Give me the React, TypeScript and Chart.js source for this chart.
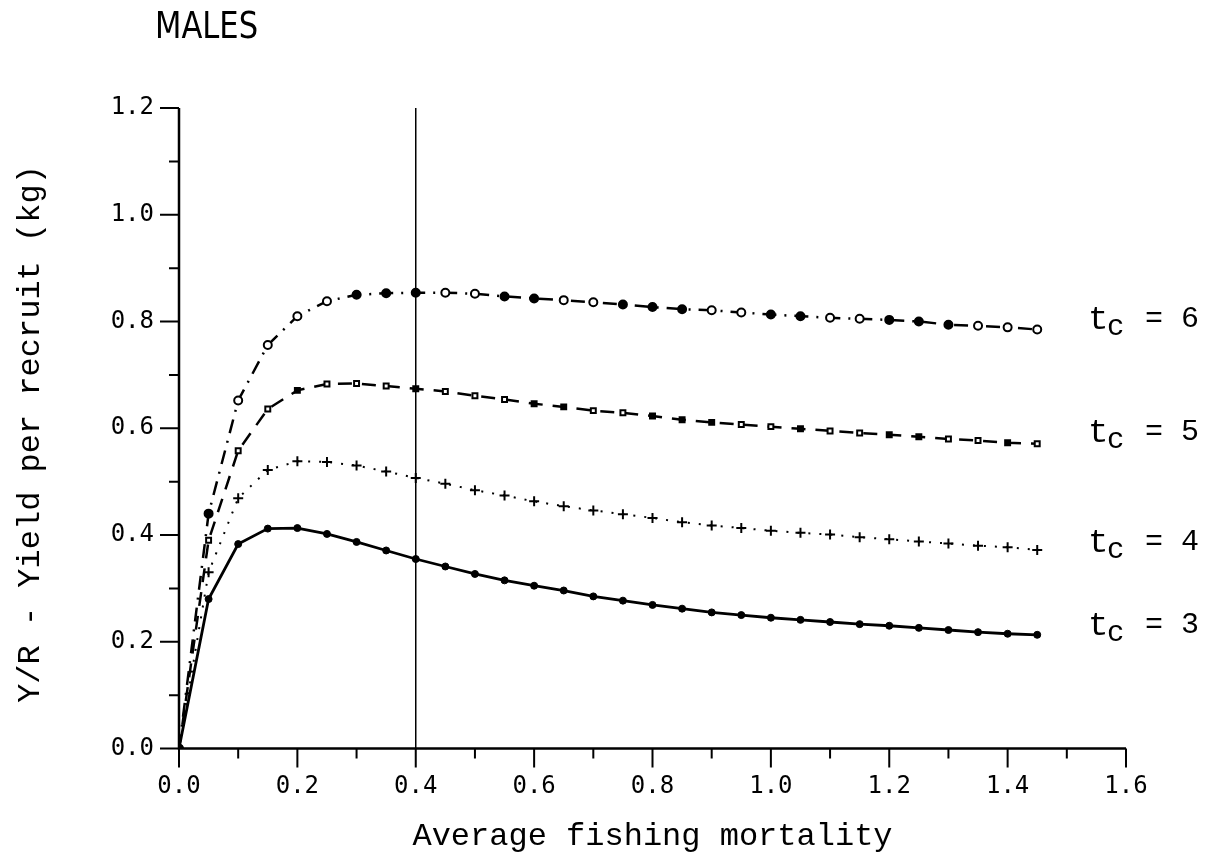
import React, { useEffect, useRef } from "react";
import { Chart, registerables } from "chart.js";

Chart.register(...registerables);

// ---- data ----
const fishingMortality = [
  0, 0.05, 0.1, 0.15, 0.2, 0.25, 0.3, 0.35, 0.4, 0.45, 0.5, 0.55, 0.6, 0.65, 0.7,
  0.75, 0.8, 0.85, 0.9, 0.95, 1.0, 1.05, 1.1, 1.15, 1.2, 1.25, 1.3, 1.35, 1.4, 1.45,
];
const yieldTc3 = [
  0, 0.28, 0.383, 0.412, 0.413, 0.402, 0.387, 0.371, 0.355, 0.341, 0.327, 0.315, 0.305,
  0.296, 0.285, 0.277, 0.269, 0.262, 0.255, 0.25, 0.245, 0.241, 0.237, 0.233, 0.23, 0.226,
  0.222, 0.218, 0.215, 0.213,
];
const yieldTc4 = [
  0, 0.33, 0.469, 0.522, 0.538, 0.537, 0.53, 0.519, 0.507, 0.496, 0.484, 0.474, 0.463,
  0.454, 0.446, 0.439, 0.432, 0.424, 0.418, 0.413, 0.408, 0.404, 0.401, 0.396, 0.392, 0.388,
  0.384, 0.38, 0.377, 0.372,
];
const yieldTc5 = [
  0, 0.39, 0.558, 0.636, 0.671, 0.683, 0.684, 0.679, 0.674, 0.669, 0.661, 0.654, 0.646,
  0.64, 0.633, 0.629, 0.623, 0.616, 0.611, 0.607, 0.603, 0.599, 0.595, 0.591, 0.588, 0.584,
  0.58, 0.577, 0.573, 0.571,
];
const yieldTc6 = [
  0, 0.44, 0.652, 0.756, 0.81, 0.838, 0.85, 0.853, 0.854, 0.854, 0.852, 0.847, 0.843,
  0.84, 0.836, 0.832, 0.827, 0.823, 0.821, 0.817, 0.813, 0.81, 0.807, 0.805, 0.803, 0.8,
  0.794, 0.792, 0.789, 0.785,
];
const referenceMortality = 0.4;
const curveNames = ["3", "4", "5", "6"];
const curveLabelLevels = [0.234, 0.388, 0.594, 0.807];

const titleText = "MALES";
const xTitle = "Average fishing mortality";
const yTitle = "Y/R - Yield per recruit (kg)";

// marker fill patterns (F = filled, O = open), purely stylistic
const tc6Fill = "OFOOOOFFFOOFFOOFFFOOFFOOFFFOOO";
const tc5Fill = "OOOOFOOOFOOOFFOOFFFOOFOOFFOOFO";

const pts = (ys: number[]) => fishingMortality.map((x, i) => ({ x, y: ys[i] }));

const MONO = '"Liberation Mono", "DejaVu Sans Mono", monospace';

const decorPlugin = {
  id: "decor",
  afterDraw(chart: any) {
    const { ctx } = chart;
    const xs = chart.scales.x;
    const ys = chart.scales.y;
    const x0 = xs.getPixelForValue(0);
    const x1 = xs.getPixelForValue(1.6);
    const y0 = ys.getPixelForValue(0);
    const y1 = ys.getPixelForValue(1.2);
    ctx.save();
    ctx.strokeStyle = "#000";
    ctx.fillStyle = "#000";
    // axes
    ctx.lineWidth = 2.5;
    ctx.beginPath();
    ctx.moveTo(x0, y1);
    ctx.lineTo(x0, y0);
    ctx.lineTo(x1, y0);
    ctx.stroke();
    // ticks (major every 0.2, minor every 0.1)
    ctx.lineWidth = 2;
    ctx.beginPath();
    for (let i = 0; i <= 12; i++) {
      const p = ys.getPixelForValue(i / 10);
      const len = i % 2 === 0 ? 19 : 10;
      ctx.moveTo(x0 - len, p);
      ctx.lineTo(x0, p);
    }
    for (let i = 0; i <= 16; i++) {
      const p = xs.getPixelForValue(i / 10);
      const len = i % 2 === 0 ? 19 : 10;
      ctx.moveTo(p, y0);
      ctx.lineTo(p, y0 + len);
    }
    ctx.stroke();

    // title
    ctx.save();
    ctx.font = '34px "Liberation Sans Narrow", "DejaVu Sans Condensed", sans-serif';
    ctx.textBaseline = "alphabetic";
    ctx.textAlign = "left";
    ctx.translate(155, 38);
    ctx.scale(1, 1.12);
    ctx.fillText(titleText, 0, 0);
    ctx.restore();

    // axis titles
    ctx.font = "32px " + MONO;
    ctx.textAlign = "center";
    ctx.textBaseline = "alphabetic";
    ctx.fillText(xTitle, (x0 + x1) / 2, 845);
    ctx.save();
    ctx.translate(39, 434);
    ctx.rotate(-Math.PI / 2);
    ctx.fillText(yTitle, 0, 0);
    ctx.restore();

    // curve labels
    ctx.textAlign = "left";
    ctx.textBaseline = "alphabetic";
    curveNames.forEach((n, i) => {
      const yc = ys.getPixelForValue(curveLabelLevels[i]);
      ctx.font = "34px " + MONO;
      ctx.fillText("t", 1088, yc + 11);
      ctx.font = "29px " + MONO;
      ctx.fillText("c", 1107, yc + 17);
      ctx.font = "30px " + MONO;
      ctx.fillText("= " + n, 1145, yc + 9);
    });
    ctx.restore();
  },
};

export default function App() {
  const canvasRef = useRef<HTMLCanvasElement | null>(null);

  useEffect(() => {
    document.body.style.margin = "0";
    const canvas = canvasRef.current;
    if (!canvas) return;
    const fillFrom = (pattern: string) =>
      fishingMortality.map((_, i) => (pattern[i] === "F" ? "#000" : "#fff"));

    const chart = new Chart(canvas, {
      type: "line",
      data: {
        datasets: [
          {
            label: "tc = 3",
            data: pts(yieldTc3),
            borderColor: "#000",
            borderWidth: 2.8,
            pointStyle: "circle",
            pointRadius: 3.5,
            pointBackgroundColor: "#000",
            pointBorderColor: "#000",
            pointBorderWidth: 1,
            tension: 0,
          },
          {
            label: "tc = 4",
            data: pts(yieldTc4),
            borderColor: "#000",
            borderWidth: 2,
            borderDash: [2, 9],
            pointStyle: "cross",
            pointRadius: 5,
            pointBorderColor: "#000",
            pointBorderWidth: 2,
            tension: 0,
          },
          {
            label: "tc = 5",
            data: pts(yieldTc5),
            borderColor: "#000",
            borderWidth: 2.5,
            borderDash: [14, 10],
            pointStyle: "rect",
            pointRadius: 3.5,
            pointBackgroundColor: fillFrom(tc5Fill),
            pointBorderColor: "#000",
            pointBorderWidth: 2,
            tension: 0,
          },
          {
            label: "tc = 6",
            data: pts(yieldTc6),
            borderColor: "#000",
            borderWidth: 2.5,
            borderDash: [14, 8, 2, 8],
            pointStyle: "circle",
            pointRadius: 4,
            pointBackgroundColor: fillFrom(tc6Fill),
            pointBorderColor: "#000",
            pointBorderWidth: 2,
            tension: 0,
          },
          {
            label: "reference F",
            data: [
              { x: referenceMortality, y: 0 },
              { x: referenceMortality, y: 1.2 },
            ],
            borderColor: "#000",
            borderWidth: 1.5,
            pointRadius: 0,
          },
        ],
      },
      options: {
        responsive: false,
        animation: false,
        events: [],
        layout: { padding: { top: 108, right: 92, left: 0, bottom: 0 } },
        plugins: { legend: { display: false }, tooltip: { enabled: false }, title: { display: false } },
        scales: {
          x: {
            type: "linear",
            min: 0,
            max: 1.6,
            grid: { display: false, drawTicks: false },
            border: { display: false },
            ticks: {
              stepSize: 0.2,
              autoSkip: false,
              maxRotation: 0,
              padding: 24,
              color: "#000",
              font: { family: '"DejaVu Sans Mono", monospace', size: 24 },
              callback: (v: any) => Number(v).toFixed(1),
            },
            afterFit: (s: any) => {
              s.height = 107.5;
            },
          },
          y: {
            type: "linear",
            min: 0,
            max: 1.2,
            grid: { display: false, drawTicks: false },
            border: { display: false },
            ticks: {
              stepSize: 0.2,
              autoSkip: false,
              padding: 25,
              color: "#000",
              font: { family: '"DejaVu Sans Mono", monospace', size: 24 },
              callback: (v: any) => Number(v).toFixed(1),
            },
            afterFit: (s: any) => {
              s.width = 179;
            },
          },
        },
      },
      plugins: [decorPlugin],
    });
    return () => chart.destroy();
  }, []);

  return (
    <div style={{ width: 1218, height: 856, background: "#fff" }}>
      <canvas ref={canvasRef} width={1218} height={856} style={{ display: "block" }} />
    </div>
  );
}
